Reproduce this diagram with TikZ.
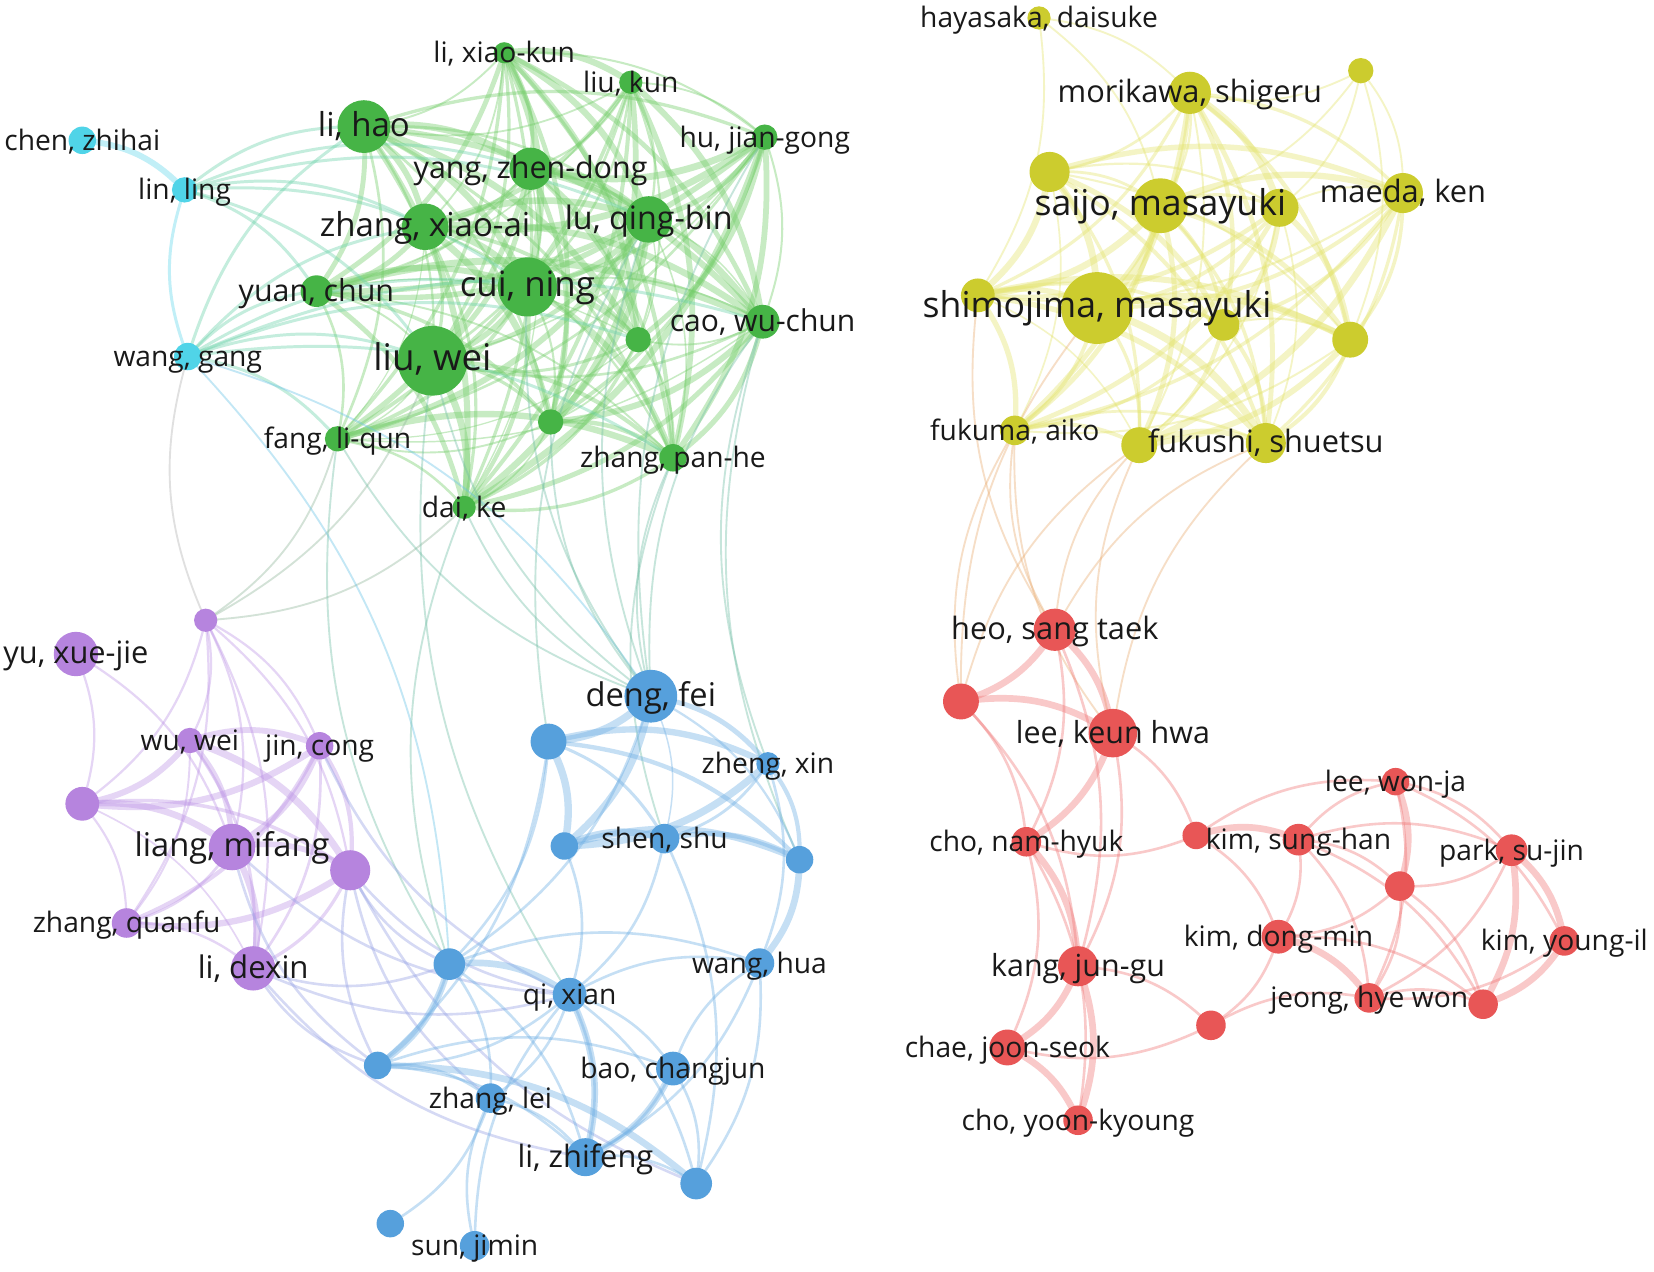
\documentclass[tikz,border=0pt]{standalone}
\usepackage{fontspec}
\setmainfont{Open Sans}
\usetikzlibrary{backgrounds}
\definecolor{gN}{RGB}{70,180,70}
\definecolor{gE}{RGB}{115,205,105}
\definecolor{cN}{RGB}{80,212,232}
\definecolor{cE}{RGB}{100,215,235}
\definecolor{yN}{RGB}{204,204,46}
\definecolor{yE}{RGB}{228,228,110}
\definecolor{pN}{RGB}{182,132,222}
\definecolor{pE}{RGB}{190,150,230}
\definecolor{bN}{RGB}{86,160,220}
\definecolor{bE}{RGB}{110,175,228}
\definecolor{rN}{RGB}{232,86,86}
\definecolor{rE}{RGB}{240,120,120}
\definecolor{tx}{RGB}{25,25,25}
\begin{document}
\begin{tikzpicture}[x=0.01cm,y=-0.01cm,
  nd/.style 2 args={circle,inner sep=0pt,minimum size=#2*0.02cm,fill=#1,draw=none},
  lab/.style={font=\fontsize{#1}{#1}\selectfont,inner sep=0pt,anchor=mid,text=tx},
  ed/.style 2 args={draw=#1,line width=#2,opacity=.4},
  bl/.style={bend left=20}]
\useasboundingbox (0,0) rectangle (1568,1205);
% ---------- nodes: green
\node[nd={gN}{10}] (gxk) at (478,50) {};
\node[nd={gN}{11}] (gkun) at (598,78) {};
\node[nd={gN}{25}] (ghao) at (345,120) {};
\node[nd={gN}{12}] (ghu) at (725,130) {};
\node[nd={gN}{20}] (gyang) at (503,160) {};
\node[nd={gN}{22}] (gzxa) at (403,215) {};
\node[nd={gN}{22}] (glu) at (615,208) {};
\node[nd={gN}{15}] (gyuan) at (300,276) {};
\node[nd={gN}{28}] (gcui) at (500,272) {};
\node[nd={gN}{16}] (gcao) at (723,305) {};
\node[nd={gN}{12}] (gu1) at (605,322) {};
\node[nd={gN}{33}] (gwei) at (410,342) {};
\node[nd={gN}{12}] (gu2) at (522,400) {};
\node[nd={gN}{12}] (gfang) at (320,416) {};
\node[nd={gN}{13}] (gpan) at (638,434) {};
\node[nd={gN}{11}] (gdai) at (440,481) {};
% cyan
\node[nd={cN}{13}] (cchen) at (78,133) {};
\node[nd={cN}{12}] (clin) at (175,180) {};
\node[nd={cN}{13}] (cwang) at (178,338) {};
% yellow
\node[nd={yN}{11}] (yhay) at (985,17) {};
\node[nd={yN}{12}] (yu1) at (1290,67) {};
\node[nd={yN}{20}] (ymori) at (1128,88) {};
\node[nd={yN}{19}] (yu2) at (995,163) {};
\node[nd={yN}{26}] (ysaijo) at (1100,195) {};
\node[nd={yN}{18}] (yu3) at (1213,197) {};
\node[nd={yN}{19}] (ymaeda) at (1330,183) {};
\node[nd={yN}{16}] (yu4) at (927,280) {};
\node[nd={yN}{34}] (yshimo) at (1040,292) {};
\node[nd={yN}{15}] (yu5) at (1160,308) {};
\node[nd={yN}{17}] (yu6) at (1280,322) {};
\node[nd={yN}{14}] (yfukuma) at (962,408) {};
\node[nd={yN}{17}] (yu7) at (1080,422) {};
\node[nd={yN}{19}] (yfukushi) at (1200,420) {};
% purple
\node[nd={pN}{11}] (pu1) at (195,588) {};
\node[nd={pN}{21}] (pyu) at (72,620) {};
\node[nd={pN}{12}] (pwu) at (180,702) {};
\node[nd={pN}{13}] (pjin) at (303,707) {};
\node[nd={pN}{16}] (pu2) at (78,762) {};
\node[nd={pN}{22}] (pliang) at (220,803) {};
\node[nd={pN}{19}] (pu3) at (332,825) {};
\node[nd={pN}{14}] (pzq) at (120,875) {};
\node[nd={pN}{21}] (pdex) at (240,918) {};
% blue
\node[nd={bN}{25}] (bdeng) at (617,660) {};
\node[nd={bN}{17}] (bu1) at (520,703) {};
\node[nd={bN}{11}] (bzheng) at (728,724) {};
\node[nd={bN}{13}] (bu2) at (535,802) {};
\node[nd={bN}{14}] (bshen) at (630,795) {};
\node[nd={bN}{13}] (bu5) at (758,815) {};
\node[nd={bN}{15}] (bu3) at (426,914) {};
\node[nd={bN}{14}] (bhua) at (720,913) {};
\node[nd={bN}{16}] (bqi) at (540,943) {};
\node[nd={bN}{13}] (bu4) at (358,1010) {};
\node[nd={bN}{16}] (bbao) at (638,1013) {};
\node[nd={bN}{14}] (bzl) at (465,1041) {};
\node[nd={bN}{18}] (blz) at (555,1097) {};
\node[nd={bN}{15}] (bu6) at (660,1122) {};
\node[nd={bN}{13}] (bu7) at (370,1160) {};
\node[nd={bN}{14}] (bsun) at (450,1181) {};
% red
\node[nd={rN}{20}] (rheo) at (1000,597) {};
\node[nd={rN}{17}] (ru1) at (911,665) {};
\node[nd={rN}{23}] (rkeun) at (1055,695) {};
\node[nd={rN}{13}] (rwon) at (1323,741) {};
\node[nd={rN}{14}] (rnam) at (973,798) {};
\node[nd={rN}{13}] (ru2) at (1134,792) {};
\node[nd={rN}{15}] (rsung) at (1231,796) {};
\node[nd={rN}{15}] (rpark) at (1433,806) {};
\node[nd={rN}{14}] (ru3) at (1327,840) {};
\node[nd={rN}{16}] (rdong) at (1212,888) {};
\node[nd={rN}{14}] (ryoung) at (1483,892) {};
\node[nd={rN}{19}] (rkang) at (1022,916) {};
\node[nd={rN}{14}] (rjeong) at (1298,946) {};
\node[nd={rN}{14}] (ru4) at (1406,952) {};
\node[nd={rN}{14}] (ru5) at (1148,972) {};
\node[nd={rN}{17}] (rchae) at (955,993) {};
\node[nd={rN}{14}] (ryoon) at (1022,1062) {};
% ---------- edges
\begin{pgfonlayer}{background}
\fill[white] (0,0) rectangle (1568,1205);
\pgfmathsetseed{7}
\def\greenlist{gxk,gkun,ghao,ghu,gyang,gzxa,glu,gyuan,gcui,gcao,gu1,gwei,gu2,gfang,gpan,gdai}
\foreach \a [count=\i] in \greenlist {
  \foreach \b [count=\j] in \greenlist {
    \ifnum\i<\j
      \pgfmathsetmacro\w{0.3+1.6*rnd}
      \draw[ed={gE}{\w pt}] (\a.center) to[bl] (\b.center);
    \fi
  }
}
\def\yellowlist{ymori,yu2,ysaijo,yu3,ymaeda,yu4,yshimo,yu5,yu6,yfukuma,yu7,yfukushi}
\foreach \a [count=\i] in \yellowlist {
  \foreach \b [count=\j] in \yellowlist {
    \ifnum\i<\j
      \pgfmathsetmacro\w{0.4+1.6*rnd}
      \draw[ed={yE}{\w pt}] (\a.center) to[bl] (\b.center);
    \fi
  }
}
\foreach \a/\b in {yhay/ymori,yhay/yu4,yhay/ysaijo,yu1/ymaeda,yu1/ymori,yu1/ysaijo,yu1/yu6,yu1/yu3}
  \draw[ed={yE}{0.5pt}] (\a.center) to[bl] (\b.center);
\def\purplelist{pwu,pjin,pu2,pliang,pu3,pzq,pdex}
\foreach \a [count=\i] in \purplelist {
  \foreach \b [count=\j] in \purplelist {
    \ifnum\i<\j
      \pgfmathsetmacro\w{0.4+1.6*rnd}
      \draw[ed={pE}{\w pt}] (\a.center) to[bl] (\b.center);
    \fi
  }
}
\foreach \a/\b in {pu1/pwu,pu1/pjin,pu1/pliang,pu1/pu2,pu1/pzq,pu1/pdex,pu1/pu3,pyu/pu2,pyu/pliang}
  \draw[ed={pE}{0.6pt}] (\a.center) to[bl] (\b.center);
\foreach \a/\b in {gdai/pu1,gfang/pu1,gwei/pu1}
  \draw[ed={gE!60!pE}{0.5pt}] (\a.center) to[bl] (\b.center);
\draw[ed={gray!60}{0.5pt}] (pu1.center) to[bl] (cwang.center);
% cyan
\draw[ed={cE}{1.6pt}] (cchen.center) to[bl] (clin.center);
\draw[ed={cE}{0.8pt}] (cwang.center) to[bl] (clin.center);
\foreach \a/\b in {clin/ghao,clin/gzxa,clin/gcui,clin/gwei,clin/gyuan,clin/glu,clin/gyang,
  cwang/gyuan,cwang/gwei,cwang/gcui,cwang/gzxa,cwang/ghao,cwang/gfang,cwang/gpan,cwang/gcao,cwang/gu1}
  \draw[ed={cE!50!gE}{0.8pt}] (\a.center) to[bl] (\b.center);
\foreach \a/\b in {cwang/bdeng,cwang/bu3}
  \draw[ed={cE!50!bE}{0.5pt}] (\a.center) to[bl] (\b.center);
% green to blue
\foreach \a/\b in {bdeng/gdai,bdeng/gwei,bdeng/gu2,bdeng/gpan,bdeng/gcao,bdeng/gcui,bdeng/glu,bdeng/ghu,
  bu1/glu,bshen/gpan,bzheng/gcao,bu3/gfang,bu3/gdai,bu5/gcao,bqi/gwei,bdeng/gfang}
  \draw[ed={gE!50!bE}{0.5pt}] (\a.center) to[bl] (\b.center);
% purple to blue
\foreach \a/\b in {bu3/pu3,bqi/pu3,bu4/pu3,bu3/pdex,bqi/pdex,bu4/pdex,bqi/pliang,bqi/pjin,
  bzl/pu3,blz/pdex,bu6/pu3,bu4/pliang}
  \draw[ed={pE!50!bE}{0.7pt}] (\a.center) to[bl] (\b.center);
% blue
\def\bluetop{bdeng,bu1,bzheng,bu2,bshen,bu5}
\foreach \a [count=\i] in \bluetop {
  \foreach \b [count=\j] in \bluetop {
    \ifnum\i<\j
      \pgfmathsetmacro\w{0.4+1.6*rnd}
      \draw[ed={bE}{\w pt}] (\a.center) to[bl] (\b.center);
    \fi
  }
}
\foreach \a/\b in {bu3/bu4,bu3/blz,bu3/bzl,bqi/bu4,bqi/bbao,bqi/blz,bqi/bzl,bqi/bu6,bqi/bhua,
  bu4/blz,bu4/bzl,bbao/blz,bbao/bu6,bbao/bhua,bzl/blz,blz/bu6,bhua/bu6,bhua/blz,bzl/bu7,bsun/bzl,
  bsun/bqi,bu2/bqi,bshen/bqi,bdeng/bu3,bu1/bu3,bu1/bu4,bzheng/bhua,bshen/bu6,bu3/bhua,bu4/bbao}
  \draw[ed={bE}{0.7pt}] (\a.center) to[bl] (\b.center);
\foreach \a/\b in {bu3/bqi,bu4/bu6,bu5/bhua,bbao/blz,bqi/blz,bu3/bu4}
  \draw[ed={bE}{1.8pt}] (\a.center) to[bl] (\b.center);
% yellow to red
\foreach \a/\b in {rheo/yfukuma,ru1/yfukuma,rheo/yu7,rkeun/yu7,rheo/yfukushi,rkeun/yfukushi,
  ru1/yshimo,rheo/yu4,rkeun/yfukuma,ru1/yu7}
  \draw[ed={yE!50!rE}{0.5pt}] (\a.center) to[bl] (\b.center);
% red
\foreach \a/\b in {rheo/rnam,ru1/rnam,rheo/rkang,ru1/rkang,rkeun/rkang,rnam/ryoon,rkeun/ru2,
  ru2/rnam,ru2/rwon,ru2/rdong,rsung/rwon,rsung/ru3,rsung/rdong,rsung/rjeong,rsung/rpark,rsung/ru4,
  rwon/rpark,rwon/rjeong,rpark/ru3,rpark/rjeong,ryoung/rjeong,ru3/rjeong,ru3/rdong,rdong/ru5,
  rkang/ru5,ru5/rjeong,ru5/rchae,rjeong/ru4,ru3/ru4,rnam/rchae,rdong/ru4,rwon/ryoung}
  \draw[ed={rE}{0.7pt}] (\a.center) to[bl] (\b.center);
\foreach \a/\b in {rheo/ru1,rheo/rkeun,ru1/rkeun,rkeun/rnam,rnam/rkang,rkang/rchae,rkang/ryoon,
  rchae/ryoon,ru2/rsung,rwon/ru3,rpark/ryoung,rpark/ru4,ryoung/ru4,rdong/rjeong}
  \draw[ed={rE}{1.8pt}] (\a.center) to[bl] (\b.center);
\end{pgfonlayer}
% ---------- labels
\def\sm{7.6}
\node[lab=\sm] (gxk-t) at (gxk) {li, xiao-kun};
\node[lab=\sm] (gkun-t) at (gkun) {liu, kun};
\node[lab=8.9] (ghao-t) at (ghao) {li, hao};
\node[lab=\sm] (ghu-t) at (ghu) {hu, jian-gong};
\node[lab=8.2] (gyang-t) at (gyang) {yang, zhen-dong};
\node[lab=8.9] (gzxa-t) at (gzxa) {zhang, xiao-ai};
\node[lab=8.7] (glu-t) at (glu) {lu, qing-bin};
\node[lab=8.2] (gyuan-t) at (gyuan) {yuan, chun};
\node[lab=9.4] (gcui-t) at (gcui) {cui, ning};
\node[lab=8.1] (gcao-t) at (gcao) {cao, wu-chun};
\node[lab=9.9] (gwei-t) at (gwei) {liu, wei};
\node[lab=\sm] (gfang-t) at (gfang) {fang, li-qun};
\node[lab=\sm] (gpan-t) at (gpan) {zhang, pan-he};
\node[lab=\sm] (gdai-t) at (gdai) {dai, ke};
\node[lab=\sm] (cchen-t) at (cchen) {chen, zhihai};
\node[lab=\sm] (clin-t) at (clin) {lin, ling};
\node[lab=\sm] (cwang-t) at (cwang) {wang, gang};
\node[lab=\sm] (yhay-t) at (yhay) {hayasaka, daisuke};
\node[lab=8.3] (ymori-t) at (ymori) {morikawa, shigeru};
\node[lab=9.6] (ysaijo-t) at (ysaijo) {saijo, masayuki};
\node[lab=8.3] (ymaeda-t) at (ymaeda) {maeda, ken};
\node[lab=9.6] (yshimo-t) at (yshimo) {shimojima, masayuki};
\node[lab=\sm] (yfukuma-t) at (yfukuma) {fukuma, aiko};
\node[lab=8.3] (yfukushi-t) at (yfukushi) {fukushi, shuetsu};
\node[lab=8.3] (pyu-t) at (pyu) {yu, xue-jie};
\node[lab=\sm] (pwu-t) at (pwu) {wu, wei};
\node[lab=\sm] (pjin-t) at (pjin) {jin, cong};
\node[lab=8.8] (pliang-t) at (pliang) {liang, mifang};
\node[lab=\sm] (pzq-t) at (pzq) {zhang, quanfu};
\node[lab=8.4] (pdex-t) at (pdex) {li, dexin};
\node[lab=8.8] (bdeng-t) at (bdeng) {deng, fei};
\node[lab=\sm] (bzheng-t) at (bzheng) {zheng, xin};
\node[lab=\sm] (bshen-t) at (bshen) {shen, shu};
\node[lab=\sm] (bhua-t) at (bhua) {wang, hua};
\node[lab=\sm] (bqi-t) at (bqi) {qi, xian};
\node[lab=\sm] (bbao-t) at (bbao) {bao, changjun};
\node[lab=\sm] (bzl-t) at (bzl) {zhang, lei};
\node[lab=8.3] (blz-t) at (blz) {li, zhifeng};
\node[lab=\sm] (bsun-t) at (bsun) {sun, jimin};
\node[lab=8.3] (rheo-t) at (rheo) {heo, sang taek};
\node[lab=8.2] (rkeun-t) at (rkeun) {lee, keun hwa};
\node[lab=\sm] (rwon-t) at (rwon) {lee, won-ja};
\node[lab=\sm] (rnam-t) at (rnam) {cho, nam-hyuk};
\node[lab=\sm] (rsung-t) at (rsung) {kim, sung-han};
\node[lab=\sm] (rpark-t) at (rpark) {park, su-jin};
\node[lab=\sm] (rdong-t) at (rdong) {kim, dong-min};
\node[lab=\sm] (ryoung-t) at (ryoung) {kim, young-il};
\node[lab=8.2] (rkang-t) at (rkang) {kang, jun-gu};
\node[lab=\sm] (rjeong-t) at (rjeong) {jeong, hye won};
\node[lab=\sm] (rchae-t) at (rchae) {chae, joon-seok};
\node[lab=\sm] (ryoon-t) at (ryoon) {cho, yoon-kyoung};
\end{tikzpicture}
\end{document}
